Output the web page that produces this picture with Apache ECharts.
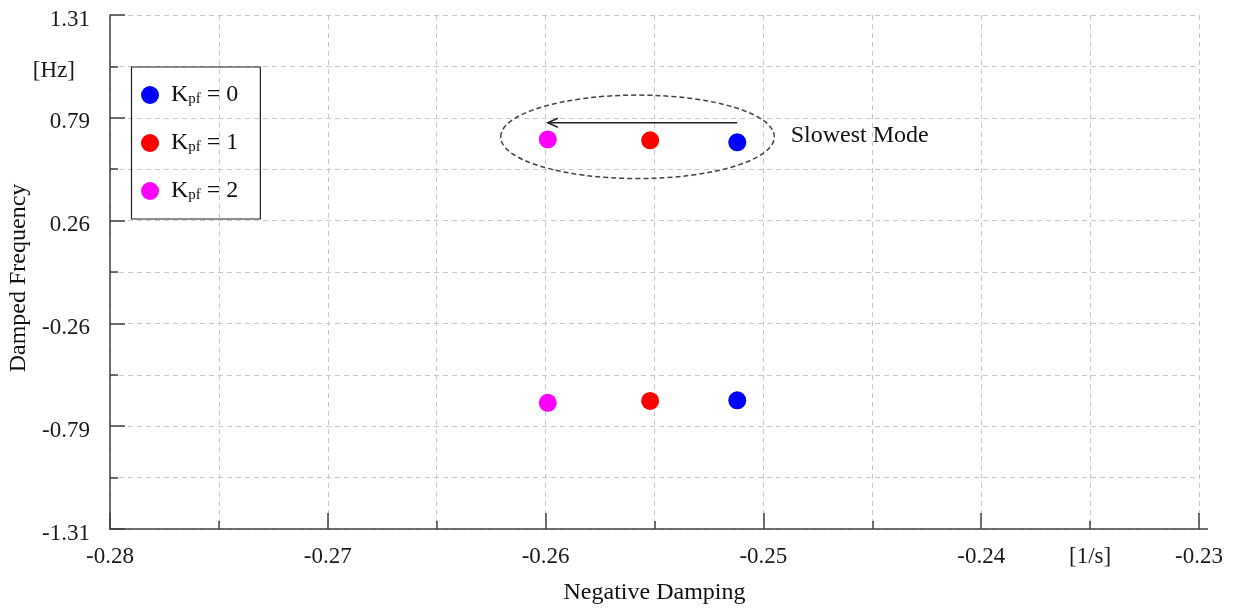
<!DOCTYPE html>
<html><head><meta charset="utf-8">
<script src="https://cdn.jsdelivr.net/npm/echarts@6/dist/echarts.min.js"></script>
<style>html,body{margin:0;padding:0;background:#fff}#c{width:1236px;height:610px}</style>
</head><body><div id="c"></div>
<script>
// ---- data ----
const seriesNames = ['Kpf = 0', 'Kpf = 1', 'Kpf = 2'];
const seriesColors = ['#0000ff', '#ff0000', '#ff00ff'];
const dampingValues = [-0.2512, -0.2552, -0.2599];
const freqUpper = [0.661, 0.671, 0.676];
const freqLower = [-0.654, -0.657, -0.667];
const xTickLabels = ['-0.28', '-0.27', '-0.26', '-0.25', '-0.24', '-0.23'];
const yTickLabels = ['-1.31', '-0.79', '-0.26', '0.26', '0.79', '1.31'];
const xUnit = '[1/s]', xUnitAt = -0.235;
const yUnit = '[Hz]', yUnitAt = 1.048;
const xMin = -0.28, xMax = -0.23, xStep = 0.005;
const yMin = -1.31, yMax = 1.31, yStep = 0.262;
const ellipseCenter = [-0.25578, 0.689];
const ellipseRadius = [0.00628, 0.2127];
const arrowFrom = [-0.2512, 0.761];
const arrowTo = [-0.2599, 0.761];
const noteAt = [-0.24875, 0.693];
const noteText = 'Slowest Mode';

const FONT = 'Liberation Serif';
const AXIS_COLOR = '#404040';
const xMajor = xTickLabels.map((_, i) => xMin + i * 2 * xStep);
const yMajor = yTickLabels.map((_, i) => yMin + i * 2 * yStep);

function xLabel(v) {
  const k = Math.round((v - xMin) / xStep);
  if (k % 2 === 0) return xTickLabels[k / 2];
  if (Math.abs(v - xUnitAt) < xStep / 10) return xUnit;
  return '';
}
function yLabel(v) {
  const k = Math.round((v - yMin) / yStep);
  if (k % 2 === 0) return yTickLabels[k / 2];
  if (Math.abs(v - yUnitAt) < yStep / 10) return '{u|' + yUnit + '}';
  return '';
}

const chart = echarts.init(document.getElementById('c'), null, {renderer: 'canvas'});
const splitLineStyle = {show: true, lineStyle: {color: '#c8c8c8', type: [5, 4], width: 1}};
const option = {
  animation: false,
  backgroundColor: '#fff',
  grid: {left: 110, right: 37, top: 15, bottom: 81, containLabel: false, outerBoundsMode: 'none'},
  legend: {
    orient: 'vertical', left: 131.5, top: 67,
    padding: [16, 22, 16, 9.5], itemGap: 24, itemWidth: 32, itemHeight: 18,
    icon: 'circle', borderColor: '#222', borderWidth: 1.2,
    selectedMode: false, data: seriesNames,
    formatter: n => n.replace('Kpf', 'K{s|pf}'),
    textStyle: {fontFamily: FONT, fontSize: 24, color: '#111', lineHeight: 24,
      rich: {s: {fontFamily: FONT, fontSize: 15, color: '#111', lineHeight: 12, verticalAlign: 'bottom'}}}
  },
  xAxis: [{
    type: 'value', position: 'bottom', min: xMin, max: xMax, interval: xStep,
    name: 'Negative Damping', nameLocation: 'middle', nameGap: 52, nameMoveOverlap: false,
    nameTextStyle: {fontFamily: FONT, fontSize: 24, color: '#111'},
    axisLine: {show: true, onZero: false, lineStyle: {color: AXIS_COLOR, width: 1.5}},
    axisTick: {show: true, inside: true, length: 8, lineStyle: {color: AXIS_COLOR, width: 1.5}},
    axisLabel: {formatter: xLabel, margin: 16, fontFamily: FONT, fontSize: 23, color: '#1a1a1a', hideOverlap: false},
    splitLine: splitLineStyle
  }, {
    type: 'value', position: 'bottom', min: xMin, max: xMax,
    axisLine: {show: false, onZero: false}, splitLine: {show: false}, axisLabel: {show: false},
    axisTick: {show: true, inside: true, length: 16, customValues: xMajor, lineStyle: {color: AXIS_COLOR, width: 1.5}}
  }],
  yAxis: [{
    type: 'value', position: 'left', min: yMin, max: yMax, interval: yStep,
    name: 'Damped Frequency', nameLocation: 'middle', nameGap: 79, nameMoveOverlap: false,
    nameTextStyle: {fontFamily: FONT, fontSize: 24, color: '#111', padding: [0, 12, 0, 0]},
    axisLine: {show: true, onZero: false, lineStyle: {color: AXIS_COLOR, width: 1.5}},
    axisTick: {show: true, inside: true, length: 8, lineStyle: {color: AXIS_COLOR, width: 1.5}},
    axisLabel: {formatter: yLabel, margin: 20, padding: [9, 0, 0, 0], fontFamily: FONT, fontSize: 23, color: '#1a1a1a', hideOverlap: false,
      rich: {u: {fontFamily: FONT, fontSize: 23, color: '#1a1a1a', padding: [0, 15, 0, 0]}}},
    splitLine: splitLineStyle
  }, {
    type: 'value', position: 'left', min: yMin, max: yMax,
    axisLine: {show: false, onZero: false}, splitLine: {show: false}, axisLabel: {show: false},
    axisTick: {show: true, inside: true, length: 15, customValues: yMajor, lineStyle: {color: AXIS_COLOR, width: 1.5}}
  }],
  series: seriesNames.map((name, i) => ({
    name: name, type: 'scatter', xAxisIndex: 0, yAxisIndex: 0,
    symbol: 'circle', symbolSize: 18,
    itemStyle: {color: seriesColors[i], opacity: 1},
    emphasis: {disabled: true},
    data: [[dampingValues[i], freqUpper[i]], [dampingValues[i], freqLower[i]]]
  }))
};
chart.setOption(option);

function px(p) { return chart.convertToPixel({xAxisIndex: 0, yAxisIndex: 0}, p); }
const c = px(ellipseCenter);
const e1 = px([ellipseCenter[0] + ellipseRadius[0], ellipseCenter[1] + ellipseRadius[1]]);
const a0 = px(arrowFrom), a1 = px(arrowTo);
const tp = px(noteAt);
const axEnd = px([xMax, yMin]);
chart.setOption({
  graphic: [
    {type: 'ellipse', silent: true, z: 5,
      shape: {cx: c[0], cy: c[1], rx: Math.abs(e1[0] - c[0]), ry: Math.abs(e1[1] - c[1])},
      style: {fill: 'none', stroke: '#444', lineWidth: 1.5, lineDash: [5, 3]}},
    {type: 'line', silent: true, z: 5,
      shape: {x1: a0[0], y1: a0[1], x2: a1[0], y2: a1[1]},
      style: {stroke: '#222', lineWidth: 1.5}},
    {type: 'polyline', silent: true, z: 5,
      shape: {points: [[a1[0] + 10, a1[1] - 4.5], [a1[0], a1[1]], [a1[0] + 10, a1[1] + 4.5]]},
      style: {fill: 'none', stroke: '#222', lineWidth: 1.5}},
    {type: 'text', silent: true, z: 5, x: tp[0], y: tp[1],
      style: {text: noteText, fontFamily: FONT, fontSize: 24, fill: '#111', align: 'left', verticalAlign: 'middle'}},
    {type: 'line', silent: true, z: 5,
      shape: {x1: axEnd[0], y1: axEnd[1], x2: axEnd[0] + 9, y2: axEnd[1]},
      style: {stroke: AXIS_COLOR, lineWidth: 1.5}}
  ]
});
</script>
</body></html>
